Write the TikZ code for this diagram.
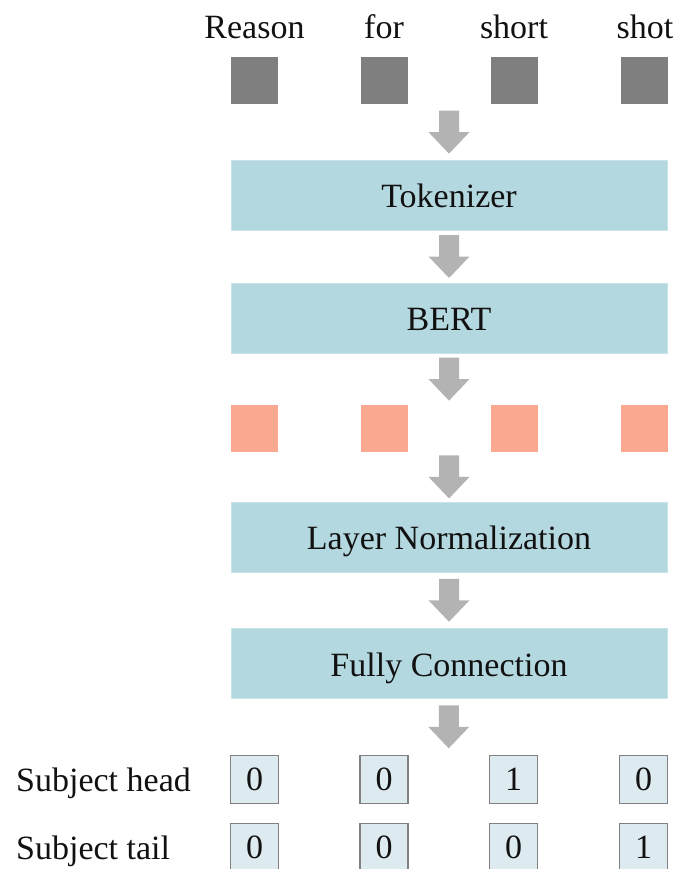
\documentclass[tikz,border=0pt]{standalone}
\usepackage{fontspec}
\setmainfont{Liberation Serif}
\usetikzlibrary{calc}

\definecolor{tokgray}{HTML}{7F7F7F}
\definecolor{arrowfill}{HTML}{B3B3B3}
\definecolor{stageblue}{HTML}{B4D8DF}
\definecolor{stageedge}{HTML}{C9E4E9}
\definecolor{vecsalmon}{HTML}{FAA890}
\definecolor{cellfill}{HTML}{DDEBF0}
\definecolor{celledge}{HTML}{808080}
\definecolor{ink}{HTML}{111111}

% thick grey block arrow, centred in the gap between two nodes
\newcommand{\blockarrow}[2]{%
  \fill[arrowfill] let \p1=(#1), \p2=(#2), \n1={0.5*(\y1+\y2)} in
    (\x2-10pt,\n1+21.5pt) -- (\x2+10pt,\n1+21.5pt) -- (\x2+10pt,\n1) --
    (\x2+20.5pt,\n1) -- (\x2,\n1-21.5pt) -- (\x2-20.5pt,\n1) --
    (\x2-10pt,\n1) -- cycle;}

\begin{document}
\begin{tikzpicture}[x=1pt,y=-1pt,
  font=\fontsize{34}{40}\selectfont, text=ink,
  word/.style={anchor=base, inner sep=0pt},
  tokbox/.style={fill=tokgray, minimum size=47pt, inner sep=0pt},
  vecbox/.style={fill=vecsalmon, minimum size=47pt, inner sep=0pt},
  stage/.style={fill=stageblue, draw=stageedge, line width=0.8pt,
    minimum width=436pt, minimum height=70pt, inner sep=0pt,
    text height=25pt, text depth=0pt},
  cell/.style={fill=cellfill, draw=celledge, line width=1.6pt,
    minimum size=48pt, inner sep=0pt},
  rowlabel/.style={anchor=base west, inner sep=0pt}]

\useasboundingbox (0,0) rectangle (672,869);

% input words and their token squares
\node[word] (w1) at (254.5,39) {Reason};
\node[word] (w2) at (384,39) {for};
\node[word] (w3) at (514,39) {short};
\node[word] (w4) at (645,39) {shot};

\node[tokbox] (g1) at (254.5,81) {};
\node[tokbox] (g2) at (384,81) {};
\node[tokbox] (g3) at (514,81) {};
\node[tokbox] (g4) at (644,81) {};

% processing stages
\node[stage] (tok)  at (449,195)   {Tokenizer};
\node[stage] (bert) at (449,318)   {BERT};

\node[vecbox] (s1) at (254.5,428.5) {};
\node[vecbox] (s2) at (384,428.5) {};
\node[vecbox] (s3) at (514,428.5) {};
\node[vecbox] (s4) at (644,428.5) {};

\node[stage] (ln) at (449,537)   {Layer Normalization};
\node[stage] (fc) at (449,663.5) {Fully Connection};

% output tags
\node[rowlabel] (lh) at (16,791) {Subject head};
\node[rowlabel] (lt) at (16,859) {Subject tail};

\node[cell] (h1) at (254.5,779.5) {0};
\node[cell] (h2) at (384,779.5)   {0};
\node[cell] (h3) at (513.5,779.5) {1};
\node[cell] (h4) at (643.5,779.5) {0};

\node[cell] (t1) at (254.5,847.5) {0};
\node[cell] (t2) at (384,847.5)   {0};
\node[cell] (t3) at (513.5,847.5) {0};
\node[cell] (t4) at (643.5,847.5) {1};

% flow arrows
\blockarrow{$(g2.south)!.5!(g3.south)$}{tok.north}
\blockarrow{tok.south}{bert.north}
\blockarrow{bert.south}{$(s2.north)!.5!(s3.north)$}
\blockarrow{$(s2.south)!.5!(s3.south)$}{ln.north}
\blockarrow{ln.south}{fc.north}
\blockarrow{fc.south}{$(h2.north)!.5!(h3.north)$}
\end{tikzpicture}
\end{document}
